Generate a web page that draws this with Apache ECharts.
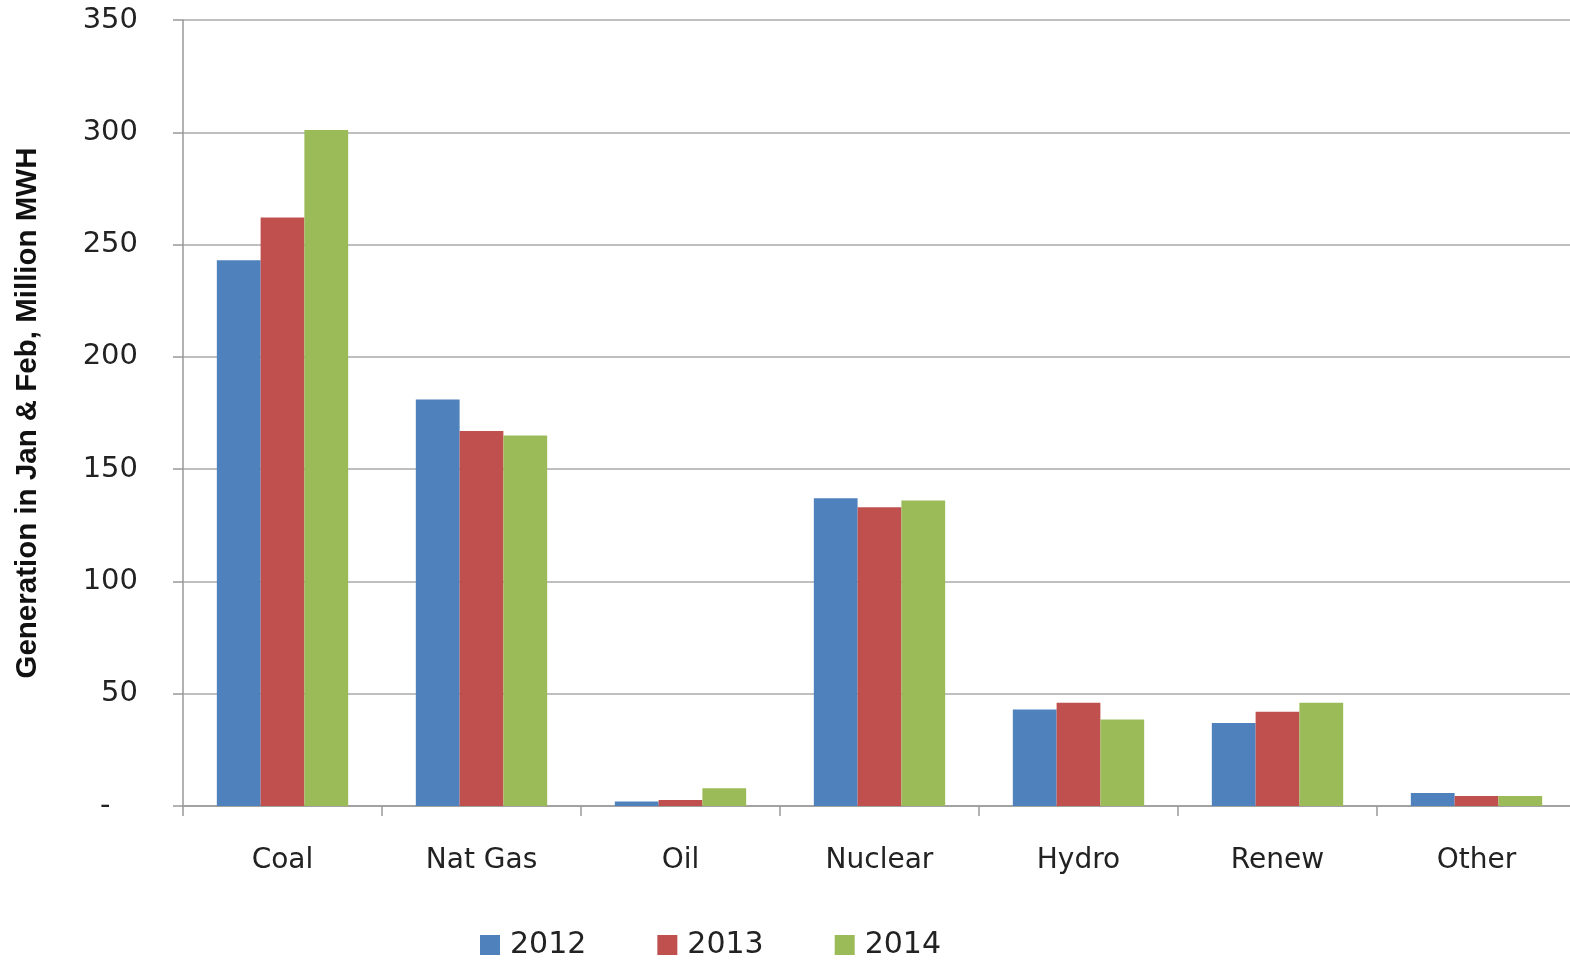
<!DOCTYPE html>
<html><head><meta charset="utf-8">
<script src="https://cdn.jsdelivr.net/npm/echarts@6/dist/echarts.min.js"></script>
<style>html,body{margin:0;padding:0;background:#fff}#c{width:1570px;height:961px}</style>
</head><body><div id="c"></div>
<script>
const categories = ['Coal','Nat Gas','Oil','Nuclear','Hydro','Renew','Other'];
const seriesNames = ['2012','2013','2014'];
const v2012 = [243, 181, 2.0, 137, 43, 37, 5.8];
const v2013 = [262, 167, 2.7, 133, 46, 42, 4.5];
const v2014 = [301, 165, 7.9, 136, 38.5, 46, 4.5];
const colors = ['#4F81BD','#C0504D','#9BBB59'];
const font = 'DejaVu Sans, Verdana, sans-serif';
const chart = echarts.init(document.getElementById('c'));
const vals = [v2012, v2013, v2014];
chart.setOption({
  animation:false,
  color: colors,
  grid:{left:183, top:20, right:-6, bottom:155, containLabel:false, outerBoundsMode:'none'},
  legend:{
    data: seriesNames, left:475, top:925, itemWidth:20, itemHeight:20, itemGap:71,
    icon:'rect',
    textStyle:{fontFamily:font, fontSize:30, color:'#222', padding:[0,0,0,5]}
  },
  xAxis:{
    type:'category', data:categories,
    axisLine:{lineStyle:{color:'#999', width:1.5}},
    axisTick:{show:true, length:10, lineStyle:{color:'#999', width:1.5}},
    axisLabel:{fontFamily:font, fontSize:28, color:'#222', margin:41}
  },
  yAxis:{
    type:'value', min:0, max:350, interval:50,
    name:'Generation in Jan & Feb, Million MWH', nameLocation:'middle', nameGap:140,
    nameTextStyle:{fontFamily:'Liberation Sans Narrow, Arial Narrow, sans-serif', fontWeight:'bold', fontSize:29.5, color:'#111'},
    axisLine:{show:true, lineStyle:{color:'#999', width:1.5}},
    axisTick:{show:true, length:10, lineStyle:{color:'#999', width:1.5}},
    splitLine:{lineStyle:{color:'#aaa', width:1.5}},
    axisLabel:{fontFamily:font, fontSize:29, color:'#222', margin:45,
      formatter: v => v === 0 ? '-   ' : String(v)}
  },
  series: seriesNames.map((n,i)=>({
    name:n, type:'bar', data: vals[i], barGap:'0%', barCategoryGap:'34%',
    itemStyle:{color:colors[i]}
  }))
});
</script></body></html>
